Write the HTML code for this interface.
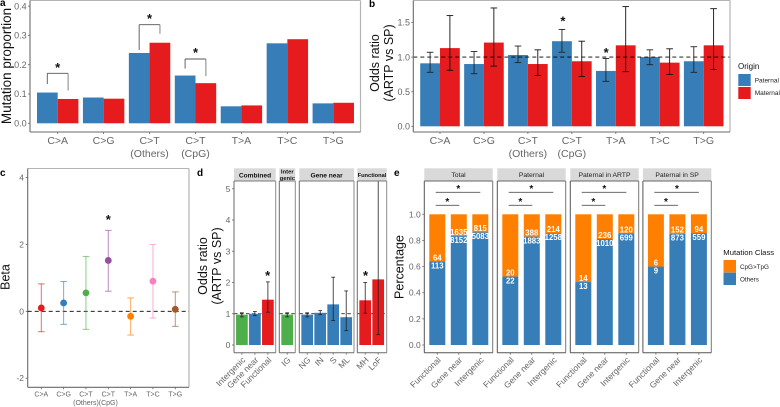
<!DOCTYPE html>
<html lang="en">
<head>
<meta charset="utf-8">
<title>Mutation origin figure</title>
<style>
html,body{margin:0;padding:0;background:#fff;}
svg{display:block;font-family:"Liberation Sans",sans-serif;}
.tick{fill:#5a5a5a;}
.title{fill:#111;}
.letter{font-weight:bold;font-size:10px;fill:#000;}
</style>
</head>
<body>
<svg id="chart" width="780" height="407" viewBox="0 0 780 407" xmlns="http://www.w3.org/2000/svg">
  <text class="letter" x="0" y="6">a</text>
  <text class="letter" x="369" y="7">b</text>
  <text class="letter" x="0" y="176">c</text>
  <text class="letter" x="197" y="176">d</text>
  <text class="letter" x="394" y="176">e</text>

  <text class="title" font-size="13.5" text-anchor="middle" transform="translate(11,66) rotate(-90)">Mutation proportion</text>
  <text class="title" font-size="12.5" text-anchor="middle" transform="translate(379,63) rotate(-90)">Odds ratio</text>
  <text class="title" font-size="12.5" text-anchor="middle" transform="translate(393,63) rotate(-90)">(ARTP vs SP)</text>
  <text class="title" font-size="12.5" text-anchor="middle" transform="translate(9.5,277) rotate(-90)">Beta</text>
  <text class="title" font-size="12.5" text-anchor="middle" transform="translate(207,266) rotate(-90)">Odds ratio</text>
  <text class="title" font-size="12.5" text-anchor="middle" transform="translate(221,266) rotate(-90)">(ARTP vs SP)</text>
  <text class="title" font-size="12.5" text-anchor="middle" transform="translate(403.5,267) rotate(-90)">Percentage</text>

  <g>
    <text x="738" y="69" font-size="8" fill="#111">Origin</text>
    <rect x="738.3" y="74" width="12.4" height="12" fill="#377eb8"/>
    <rect x="738.3" y="87" width="12.4" height="12" fill="#e41a1c"/>
    <text x="754.7" y="82.5" font-size="6.5" fill="#222">Paternal</text>
    <text x="754.7" y="95" font-size="6.5" fill="#222">Maternal</text>
  </g>
  <g>
    <text x="723.3" y="255" font-size="7.7" fill="#111">Mutation Class</text>
    <rect x="723.5" y="260" width="12.5" height="12.4" fill="#ff7f00"/>
    <rect x="723.5" y="272.6" width="12.5" height="12.4" fill="#377eb8"/>
    <text x="740" y="269" font-size="6.3" fill="#222">CpG&gt;TpG</text>
    <text x="740" y="281.5" font-size="6.3" fill="#222">Others</text>
  </g>
</svg>
<script>
// ---- Panel a: mutation proportion ----
const mutationCategories = ['C>A', 'C>G', 'C>T', 'C>T', 'T>A', 'T>C', 'T>G'];
const mutationSublabels = ['', '', '(Others)', '(CpG)', '', '', ''];
const proportionPaternal = [0.105, 0.088, 0.240, 0.163, 0.058, 0.273, 0.068];
const proportionMaternal = [0.083, 0.084, 0.275, 0.137, 0.061, 0.287, 0.070];
const proportionTicks = [0, 0.1, 0.2, 0.3, 0.4];
const proportionTickLabels = ['0.0', '0.1', '0.2', '0.3', '0.4'];

// ---- Panel b: odds ratio by origin ----
const oddsPaternal = [0.91, 0.90, 1.03, 1.23, 0.80, 1.00, 0.94];
const oddsPaternalLow = [0.78, 0.76, 0.92, 1.07, 0.65, 0.89, 0.78];
const oddsPaternalHigh = [1.07, 1.08, 1.16, 1.40, 0.98, 1.105, 1.15];
const oddsMaternal = [1.13, 1.21, 0.90, 0.94, 1.17, 0.92, 1.17];
const oddsMaternalLow = [0.81, 0.87, 0.735, 0.72, 0.79, 0.75, 0.82];
const oddsMaternalHigh = [1.60, 1.71, 1.105, 1.23, 1.73, 1.12, 1.70];
const oddsTicks = [0, 0.5, 1, 1.5];
const oddsTickLabels = ['0.0', '0.5', '1.0', '1.5'];

// ---- Panel c: beta ----
const betaValues = [0.10, 0.25, 0.55, 1.52, -0.15, 0.90, 0.06];
const betaLow = [-0.61, -0.39, -0.54, 0.60, -0.71, -0.20, -0.45];
const betaHigh = [0.82, 0.89, 1.64, 2.42, 0.40, 2.00, 0.58];
const betaTicks = [-2, 0, 2, 4];
const betaTickLabels = ['-2', '0', '2', '4'];

// ---- Panel d: odds ratio by region ----
const regionFacetTitles = ['Combined', 'Gene near', 'Functional'];
const regionLabels = ['Intergenic', 'Gene near', 'Functional', 'IG', 'NG', 'IN', 'S', 'ML', 'MH', 'LoF'];
const regionFacet = [0, 0, 0, 1, 2, 2, 2, 2, 3, 3];
const regionOdds = [0.97, 1.00, 1.45, 0.97, 0.97, 1.03, 1.30, 0.89, 1.43, 2.10];
const regionLow = [0.90, 0.94, 1.05, 0.90, 0.90, 0.97, 0.78, 0.46, 1.02, 0.33];
const regionHigh = [1.03, 1.07, 2.02, 1.03, 1.03, 1.10, 2.17, 1.73, 2.00, 5.50];
const regionColorKey = ['green', 'blue', 'red', 'green', 'blue', 'blue', 'blue', 'blue', 'red', 'red'];
const regionTicks = [0, 1, 2, 3, 4, 5];

// ---- Panel e: stacked percentage ----
const stackFacetTitles = ['Total', 'Paternal', 'Paternal in ARTP', 'Paternal in SP'];
const stackCategories = ['Functional', 'Gene near', 'Intergenic'];
const stackCpg = [[64, 1635, 815], [20, 388, 214], [14, 236, 120], [6, 152, 94]];
const stackOthers = [[113, 8152, 5083], [22, 1883, 1258], [13, 1010, 699], [9, 873, 559]];
const stackTicks = [0, 0.2, 0.4, 0.6, 0.8, 1];
const stackTickLabels = ['0.0', '0.2', '0.4', '0.6', '0.8', '1.0'];

const NS = 'http://www.w3.org/2000/svg';
const svg = document.getElementById('chart');
const BLUE = '#377eb8', RED = '#e61b1d', ORANGE = '#ff7f00', GREEN = '#4daf4a';
const betaColors = [RED, BLUE, GREEN, '#984ea3', ORANGE, '#f781bf', '#a65628'];
const regionColors = { green: GREEN, blue: BLUE, red: RED };

function mk(tag, attrs, name) {
  const n = document.createElementNS(NS, tag);
  for (const k in attrs) n.setAttribute(k, attrs[k]);
  
  
  svg.appendChild(n);
  return n;
}
function rect(x, y, w, h, fill, name) {
  return mk('rect', { x: x, y: y, width: w, height: h, fill: fill }, name);
}
function line(x1, y1, x2, y2, stroke, sw, name, dash, op) {
  const a = { x1: x1, y1: y1, x2: x2, y2: y2, stroke: stroke, 'stroke-width': sw };
  if (dash) a['stroke-dasharray'] = dash;
  if (op) a['stroke-opacity'] = op;
  return mk('line', a, name);
}
function text(x, y, s, size, fill, anchor, name, extra) {
  const a = Object.assign({ x: x, y: y, 'font-size': size, fill: fill, 'text-anchor': anchor }, extra || {});
  const n = mk('text', a, name);
  n.textContent = s;
  return n;
}
function star(x, y, name, size) {
  const s = size || 13;
  return text(x, y + s * 0.42, '*', s, '#111', 'middle', name, { 'font-weight': 'bold' });
}
function frame(l, t, r, b, name) {
  line(l, t, r, t, '#b4b4b4', 1, name + '-border-top');
  line(r, t, r, b, '#b4b4b4', 1.2, name + '-border-right');
  line(l, t, l, b, '#6a6a6a', 1.1, name + '-axis-y');
  line(l, b, r, b, '#6a6a6a', 1.1, name + '-axis-x');
}
function errorbar(x, yLow, yHigh, cap, color, sw, name, op, skipTop) {
  line(x, yLow, x, yHigh, color, sw, name + '-stem', null, op);
  line(x - cap, yLow, x + cap, yLow, color, sw, name + '-cap-low', null, op);
  if (!skipTop) line(x - cap, yHigh, x + cap, yHigh, color, sw, name + '-cap-high', null, op);
}

// Panel a
const aX = i => 57.7 + 45.93 * i;
const aY = v => 123.3 - 293 * v;
const aW = 20.7;
mutationCategories.forEach((c, i) => {
  rect(aX(i) - aW, aY(proportionPaternal[i]), aW, aY(0) - aY(proportionPaternal[i]), BLUE, 'a-bar-paternal-' + i);
  rect(aX(i), aY(proportionMaternal[i]), aW, aY(0) - aY(proportionMaternal[i]), RED, 'a-bar-maternal-' + i);
  text(aX(i), 144, c, 10.5, '#666', 'middle', 'a-x-label-' + i);
  if (mutationSublabels[i]) text(aX(i), 157, mutationSublabels[i], 10.5, '#666', 'middle', 'a-x-sublabel-' + i);
  line(aX(i), 132, aX(i), 134, '#666', 0.8, 'a-x-tick-' + i);
});
proportionTicks.forEach((t, i) => {
  text(26.7, aY(t) + 3.2, proportionTickLabels[i], 9, '#666', 'end', 'a-y-label-' + i);
  line(28, aY(t), 30, aY(t), '#666', 0.8, 'a-y-tick-' + i);
});
frame(30, 0.5, 360.5, 132, 'a-panel');
function bracket(i, offLeft, top, offRight, starY) {
  const x0 = aX(i) - 10.4, x1 = aX(i) + 10.4;
  line(x0, aY(proportionPaternal[i]) - offLeft, x0, top, '#555', 0.9, 'a-bracket-left-' + i);
  line(x0, top, x1, top, '#555', 0.9, 'a-bracket-top-' + i);
  line(x1, top, x1, aY(proportionMaternal[i]) - offRight, '#777', 0.9, 'a-bracket-right-' + i);
  star(aX(i), starY, 'a-significance-star-' + i);
}
bracket(0, 8.5, 73.3, 8.5, 66.7);
bracket(2, 3, 24.7, 9, 17.7);
bracket(3, 7, 59, 7, 51.7);

// Panel b
const bX = i => 440 + 43.95 * i;
const bY = v => 126.3 - 69.2 * v;
const bW = 19.8;
mutationCategories.forEach((c, i) => {
  rect(bX(i) - bW, bY(oddsPaternal[i]), bW, bY(0) - bY(oddsPaternal[i]), BLUE, 'b-bar-paternal-' + i);
  rect(bX(i), bY(oddsMaternal[i]), bW, bY(0) - bY(oddsMaternal[i]), RED, 'b-bar-maternal-' + i);
  text(bX(i), 144, c, 10.5, '#666', 'middle', 'b-x-label-' + i);
  if (mutationSublabels[i]) text(bX(i), 157, mutationSublabels[i], 10.5, '#666', 'middle', 'b-x-sublabel-' + i);
  line(bX(i), 132, bX(i), 134, '#666', 0.8, 'b-x-tick-' + i);
});
oddsTicks.forEach((t, i) => {
  text(410, bY(t) + 3.2, oddsTickLabels[i], 9, '#666', 'end', 'b-y-label-' + i);
  line(411.3, bY(t), 413.3, bY(t), '#666', 0.8, 'b-y-tick-' + i);
});
line(413.3, bY(1), 730, bY(1), '#000', 0.9, 'b-reference-line', '4 3');
mutationCategories.forEach((c, i) => {
  errorbar(bX(i) - bW / 2, bY(oddsPaternalLow[i]), bY(oddsPaternalHigh[i]), 3.3, '#222', 0.9, 'b-error-paternal-' + i);
  errorbar(bX(i) + bW / 2, bY(oddsMaternalLow[i]), bY(oddsMaternalHigh[i]), 3.3, '#111', 0.9, 'b-error-maternal-' + i);
});
frame(413.3, 0.5, 730, 132, 'b-panel');
star(bX(3) - bW / 2 + 0.9, 20, 'b-significance-star-cpg');
star(bX(4) - bW / 2 + 0.2, 51.7, 'b-significance-star-ta');

// Panel c
const cX = i => 41.3 + 22.33 * i;
const cY = v => 311.3 - 33.45 * v;
frame(27.7, 168.5, 189, 387.3, 'c-panel');
betaTicks.forEach((t, i) => {
  text(24, cY(t) + 3, betaTickLabels[i], 8.5, '#666', 'end', 'c-y-label-' + i);
  line(25.7, cY(t), 27.7, cY(t), '#666', 0.8, 'c-y-tick-' + i);
});
line(27.7, cY(0), 189, cY(0), '#000', 0.9, 'c-reference-line', '4 3');
betaValues.forEach((v, i) => {
  errorbar(cX(i), cY(betaLow[i]), cY(betaHigh[i]), 3.3, betaColors[i], 1, 'c-error-' + i, 0.65);
  mk('circle', { cx: cX(i), cy: cY(v), r: 3.4, fill: betaColors[i] }, 'c-point-' + i);
  text(cX(i), 396.3, mutationCategories[i], 7, '#666', 'middle', 'c-x-label-' + i);
  if (mutationSublabels[i]) text(cX(i), 405, mutationSublabels[i], 7, '#666', 'middle', 'c-x-sublabel-' + i);
  line(cX(i), 387.3, cX(i), 389.3, '#666', 0.8, 'c-x-tick-' + i);
});
star(cX(3), 218.3, 'c-significance-star');

// Panel d
const dLeft = [234, 279.3, 299.3, 357.3];
const dRight = [275.7, 295.3, 354, 386.7];
const dTop = 181, dBottom = 352.7;
const dY = v => 345 - 31.25 * v;
dLeft.forEach((l, f) => {
  rect(l, 168.3, dRight[f] - l, dTop - 168.3, '#d9d9d9', 'd-strip-' + f);
  line(l, dY(1), dRight[f], dY(1), '#000', 0.8, 'd-reference-line-' + f, '3.5 2.5');
});
const dSlots = [0, 0, 0, 0];
regionLabels.forEach((lab, i) => {
  const f = regionFacet[i];
  const x = dLeft[f] + 7.9 + 13 * dSlots[f];
  dSlots[f]++;
  rect(x - 5.85, dY(regionOdds[i]), 11.7, dY(0) - dY(regionOdds[i]), regionColors[regionColorKey[i]], 'd-bar-' + i);
  const clipped = dY(regionHigh[i]) < dTop;
  errorbar(x, dY(regionLow[i]), Math.max(dY(regionHigh[i]), dTop), 1.9, '#222', 0.8, 'd-error-' + i, null, clipped);
  line(x, dBottom, x, dBottom + 2, '#666', 0.8, 'd-x-tick-' + i);
  text(0, 0, lab, 8.5, '#666', 'end', 'd-x-label-' + i, { transform: 'translate(' + (x + 4) + ',' + 360.5 + ') rotate(-45)' });
});
dLeft.forEach((l, f) => {
  line(l, dTop, dRight[f], dTop, '#777', 0.9, 'd-panel-top-' + f);
  line(l, dTop, l, dBottom, '#6a6a6a', 1, 'd-panel-left-' + f);
  line(dRight[f], dTop, dRight[f], dBottom, '#8a8a8a', 1, 'd-panel-right-' + f);
  line(l, dBottom, dRight[f], dBottom, '#6a6a6a', 1, 'd-panel-bottom-' + f);
});
regionTicks.forEach((t, i) => {
  text(230.3, dY(t) + 3, String(t), 8.5, '#666', 'end', 'd-y-label-' + i);
  line(232, dY(t), 234, dY(t), '#666', 0.8, 'd-y-tick-' + i);
});
text(255, 177.3, regionFacetTitles[0], 6.6, '#111', 'middle', 'd-strip-label-combined', { 'font-weight': 'bold' });
text(287.3, 173.3, 'Inter', 5.9, '#111', 'middle', 'd-strip-label-inter', { 'font-weight': 'bold' });
text(287.3, 180.2, 'genic', 5.9, '#111', 'middle', 'd-strip-label-genic', { 'font-weight': 'bold' });
text(326.6, 177.3, regionFacetTitles[1], 6.6, '#111', 'middle', 'd-strip-label-gene-near', { 'font-weight': 'bold' });
text(372, 177.2, regionFacetTitles[2], 5.7, '#111', 'middle', 'd-strip-label-functional', { 'font-weight': 'bold' });
star(267.7, 274.3, 'd-significance-star-functional');
star(365.5, 274.3, 'd-significance-star-mh');

// Panel e
const eLeft = [424.3, 497.3, 570.3, 642.9];
const ePanelW = 68.4, eTop = 181, eBottom = 352.7;
const eY = f => 345 - 130.7 * f;
stackFacetTitles.forEach((title, p) => {
  const l = eLeft[p];
  rect(l, 168.3, ePanelW, eTop - 168.3, '#d9d9d9', 'e-strip-' + p);
  text(l + ePanelW / 2, 177.2, title, 6.8, '#222', 'middle', 'e-strip-label-' + p);
  stackCategories.forEach((c, i) => {
    const x = l + 13 + 21.5 * i;
    const cpg = stackCpg[p][i], others = stackOthers[p][i];
    const frac = others / (cpg + others);
    rect(x - 8, eY(1), 16, eY(frac) - eY(1), ORANGE, 'e-bar-cpg-' + p + '-' + i);
    rect(x - 8, eY(frac), 16, eY(0) - eY(frac), BLUE, 'e-bar-others-' + p + '-' + i);
    text(x, eY(frac) - 1.2, String(cpg), 7.8, '#fff', 'middle', 'e-value-cpg-' + p + '-' + i, { 'font-weight': 'bold' });
    text(x, eY(frac) + 6.8, String(others), 7.8, '#fff', 'middle', 'e-value-others-' + p + '-' + i, { 'font-weight': 'bold' });
    line(x, eBottom, x, eBottom + 2, '#666', 0.8, 'e-x-tick-' + p + '-' + i);
    text(0, 0, c, 8.5, '#666', 'end', 'e-x-label-' + p + '-' + i, { transform: 'translate(' + (x + 4) + ',' + 360.5 + ') rotate(-45)' });
  });
  line(l, eTop, l + ePanelW, eTop, '#666', 0.9, 'e-panel-top-' + p);
  line(l, eTop, l, eBottom, '#555', 1, 'e-panel-left-' + p);
  line(l + ePanelW, eTop, l + ePanelW, eBottom, '#777', 1, 'e-panel-right-' + p);
  line(l, eBottom, l + ePanelW, eBottom, '#555', 1, 'e-panel-bottom-' + p);
  line(l + 11.4, 192.3, l + 56, 192.3, '#555', 0.8, 'e-compare-line-wide-' + p);
  line(l + 11.4, 205.3, l + 35, 205.3, '#555', 0.8, 'e-compare-line-narrow-' + p);
  star(l + 34, 188, 'e-significance-star-wide-' + p, 10);
  star(l + 23, 201, 'e-significance-star-narrow-' + p, 10);
});
stackTicks.forEach((t, i) => {
  text(420.7, eY(t) + 3, stackTickLabels[i], 8.5, '#666', 'end', 'e-y-label-' + i);
  line(422.3, eY(t), 424.3, eY(t), '#666', 0.8, 'e-y-tick-' + i);
});
</script>
</body>
</html>
